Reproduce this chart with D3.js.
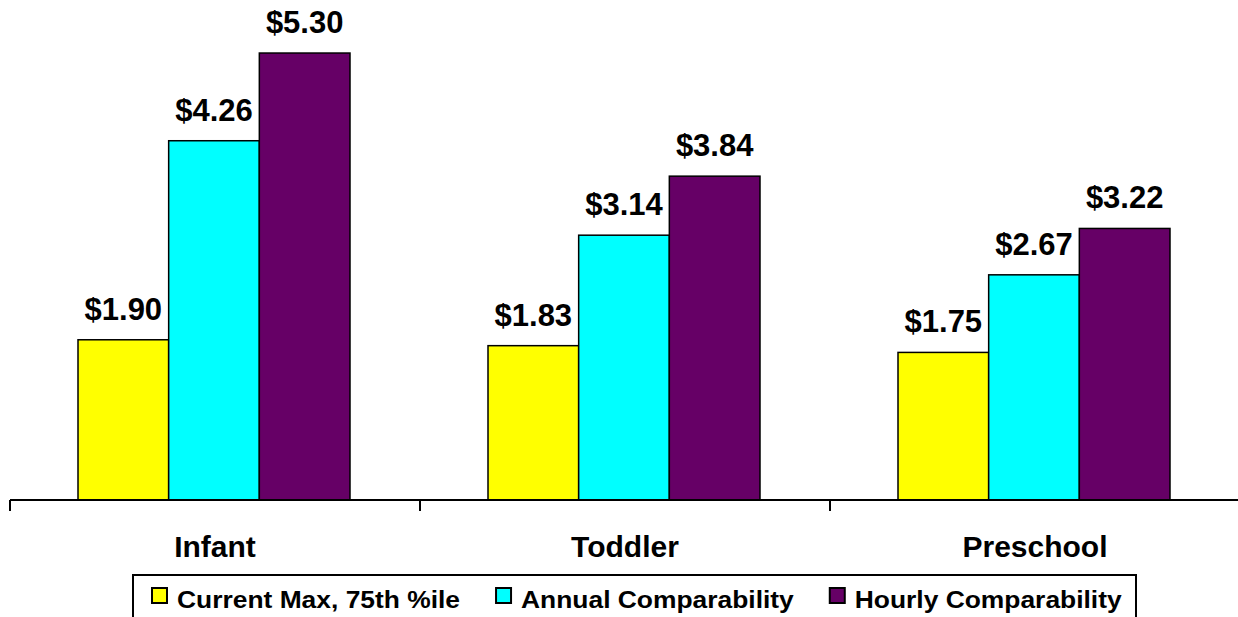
<!DOCTYPE html>
<meta charset="utf-8">
<style>
body { margin: 0; background: #fff; }
svg { display: block; font-family: "Liberation Sans", Arial, sans-serif; font-weight: bold; }
</style>
<svg width="1238" height="617"></svg>
<script src="https://d3js.org/d3.v7.min.js"></script>
<script>

// data
let categories = ["Infant", "Toddler", "Preschool"];
let seriesNames = ["Current Max, 75th %ile", "Annual Comparability", "Hourly Comparability"];
let currentMax = [1.90, 1.83, 1.75];
let annualComp = [4.26, 3.14, 2.67];
let hourlyComp = [5.30, 3.84, 3.22];
let colors = ["#ffff00", "#00ffff", "#660066"];

let seriesValues = [currentMax, annualComp, hourlyComp];

let svg = d3.select("svg");
let width = +svg.attr("width");

let x0 = d3.scaleBand()
  .domain(categories)
  .range([10, 1240]);

let x1 = d3.scaleBand()
  .domain(seriesNames)
  .range([68, 340]);

let y = d3.scaleLinear()
  .domain([0, 6])
  .range([500, -6]);

let rows = [];
categories.forEach(function(c, i) {
  seriesNames.forEach(function(s, j) {
    rows.push({cat: c, series: s, value: seriesValues[j][i], color: colors[j]});
  });
});

let bars = svg.append("g");
bars.selectAll("rect")
  .data(rows)
  .enter().append("rect")
  .attr("x", d => x0(d.cat) + x1(d.series))
  .attr("y", d => y(d.value))
  .attr("width", x1.bandwidth())
  .attr("height", d => y(0) - y(d.value))
  .attr("fill", d => d.color)
  .attr("stroke", "#000")
  .attr("stroke-width", 1.5);

bars.selectAll("text")
  .data(rows)
  .enter().append("text")
  .attr("x", d => x0(d.cat) + x1(d.series) + x1.bandwidth() / 2)
  .attr("y", d => y(d.value) - 20)
  .attr("text-anchor", "middle")
  .style("font-size", "31px")
  .text(d => "$" + d.value.toFixed(2));

// x axis
let axis = svg.append("g");
axis.append("line")
  .attr("x1", 10).attr("x2", width)
  .attr("y1", y(0)).attr("y2", y(0))
  .attr("stroke", "#000").attr("stroke-width", 2);

let tickPos = categories.map(c => x0(c)).concat([x0.range()[1]]);
axis.selectAll(".tick")
  .data(tickPos)
  .enter().append("line")
  .attr("x1", d => d).attr("x2", d => d)
  .attr("y1", y(0)).attr("y2", y(0) + 11)
  .attr("stroke", "#000").attr("stroke-width", 2);

axis.selectAll("text")
  .data(categories)
  .enter().append("text")
  .attr("x", d => x0(d) + x0.bandwidth() / 2)
  .attr("y", 557)
  .attr("text-anchor", "middle")
  .style("font-size", "30px")
  .text(d => d);

// legend
let legend = svg.append("g");
legend.append("rect")
  .attr("x", 133).attr("y", 575)
  .attr("width", 1003).attr("height", 60)
  .attr("fill", "none")
  .attr("stroke", "#000").attr("stroke-width", 2);

let lx = 152;
let stretch = 1.10;
seriesNames.forEach(function(s, i) {
  legend.append("rect")
    .attr("x", lx).attr("y", 588)
    .attr("width", 15).attr("height", 15)
    .attr("fill", colors[i])
    .attr("stroke", "#000").attr("stroke-width", 2);
  let t = legend.append("text")
    .attr("transform", "translate(" + (lx + 25) + ",608) scale(" + stretch + ",1)")
    .style("font-size", "24px")
    .text(s);
  lx += 25 + t.node().getComputedTextLength() * stretch + 36;
});

</script>
